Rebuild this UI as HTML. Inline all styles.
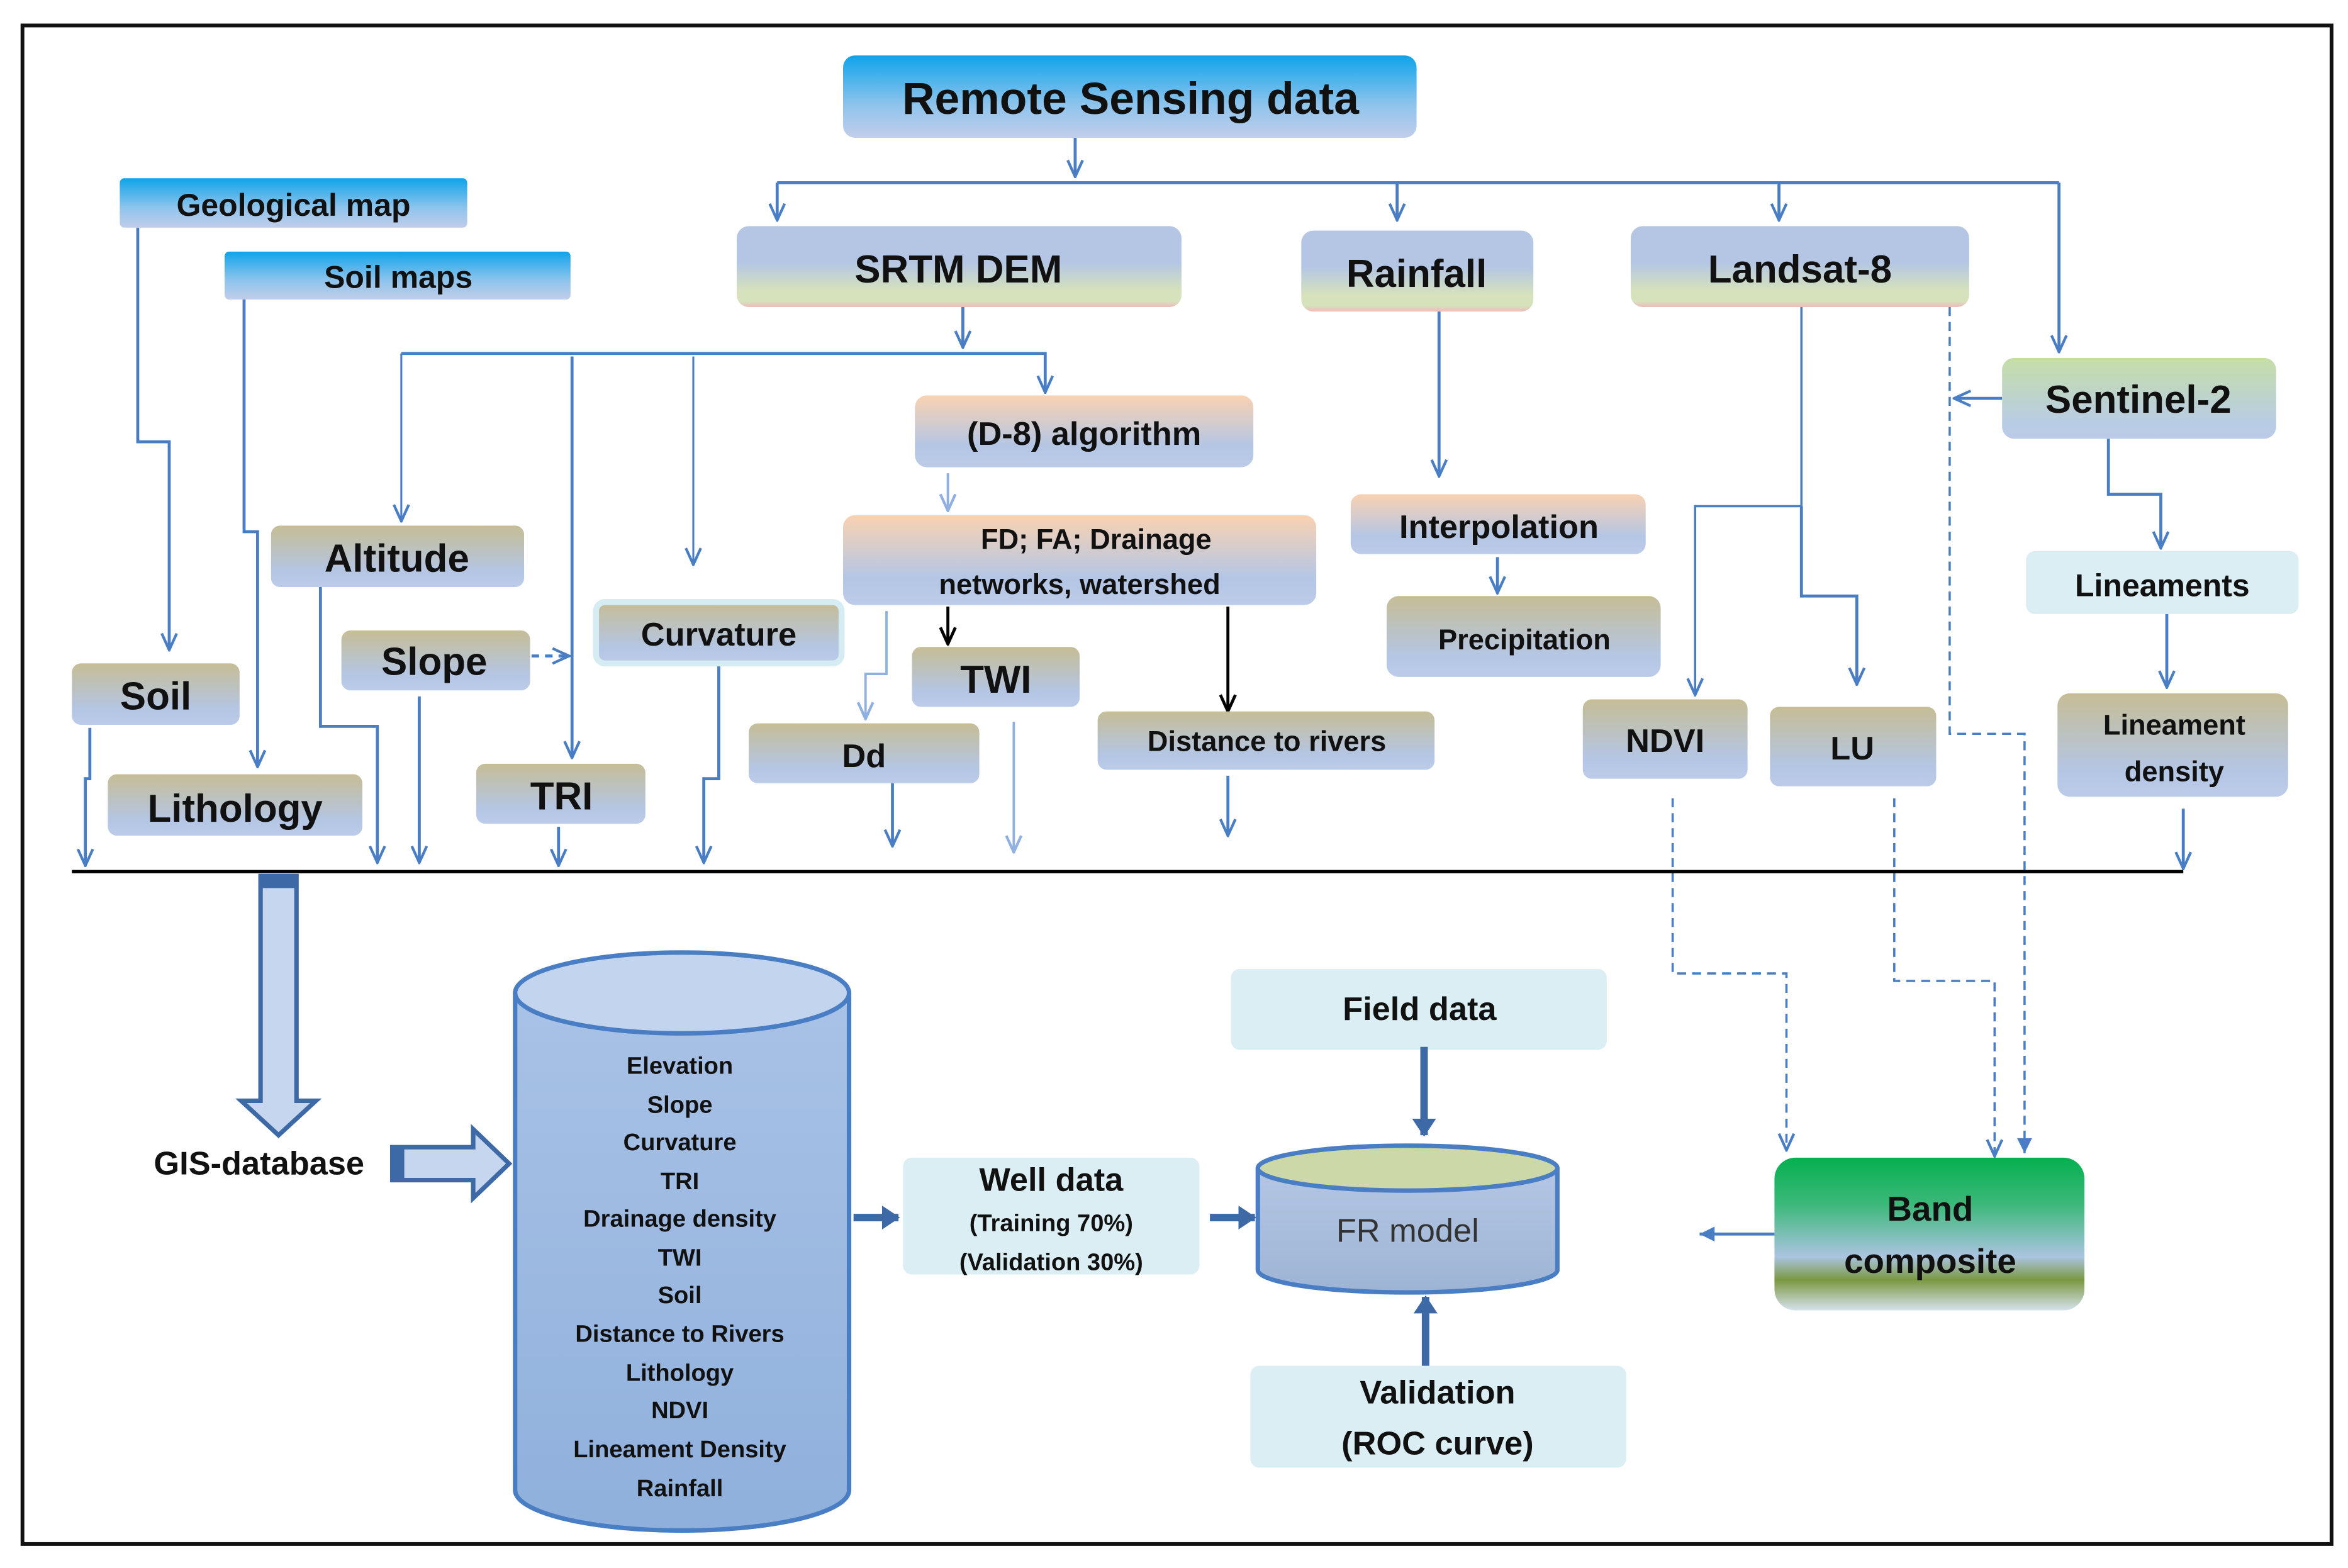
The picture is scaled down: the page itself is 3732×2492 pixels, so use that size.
<!DOCTYPE html>
<html><head><meta charset="utf-8"><style>
html,body{margin:0;padding:0;background:#fff}
svg{display:block}
text{font-family:"Liberation Sans",sans-serif;font-weight:bold;fill:#111;text-anchor:middle;dominant-baseline:central}
</style></head><body>
<svg width="3732" height="2492" viewBox="0 0 1568 1047" xmlns="http://www.w3.org/2000/svg">
<defs>
<linearGradient id="gCyan" x1="0" y1="0" x2="0" y2="1"><stop offset="0" stop-color="#0fa3ea"/><stop offset="0.6" stop-color="#8ec4ec"/><stop offset="1" stop-color="#c2cdea"/></linearGradient>
<linearGradient id="gSrtm" x1="0" y1="0" x2="0" y2="1"><stop offset="0" stop-color="#b4c6e4"/><stop offset="0.45" stop-color="#b4c6e4"/><stop offset="0.8" stop-color="#d6e2bc"/><stop offset="0.93" stop-color="#d6e2bc"/><stop offset="1" stop-color="#ecbcbc"/></linearGradient>
<linearGradient id="gOr" x1="0" y1="0" x2="0" y2="1"><stop offset="0" stop-color="#f9d2b2"/><stop offset="0.7" stop-color="#b4c6e4"/><stop offset="1" stop-color="#bccbe8"/></linearGradient>
<linearGradient id="gKh" x1="0" y1="0" x2="0" y2="1"><stop offset="0" stop-color="#c6bd96"/><stop offset="0.75" stop-color="#b4c6e4"/><stop offset="1" stop-color="#bccbe8"/></linearGradient>
<linearGradient id="gSen" x1="0" y1="0" x2="0" y2="1"><stop offset="0" stop-color="#c6dea8"/><stop offset="0.8" stop-color="#b8cce4"/><stop offset="1" stop-color="#bccbe8"/></linearGradient>
<linearGradient id="gBand" x1="0" y1="0" x2="0" y2="1"><stop offset="0" stop-color="#06b050"/><stop offset="0.3" stop-color="#3ab878"/><stop offset="0.65" stop-color="#abc4e0"/><stop offset="0.8" stop-color="#7a9840"/><stop offset="1" stop-color="#d6e2ee"/></linearGradient>
<linearGradient id="gCyl" x1="0" y1="0" x2="0" y2="1"><stop offset="0" stop-color="#a9c2e6"/><stop offset="1" stop-color="#8fb0dc"/></linearGradient>
<linearGradient id="gFR" x1="0" y1="0" x2="0" y2="1"><stop offset="0" stop-color="#b4c6e4"/><stop offset="1" stop-color="#9eb4d4"/></linearGradient>
<marker id="a" viewBox="0 0 14 12" refX="13" refY="6" markerWidth="14" markerHeight="12" markerUnits="userSpaceOnUse" orient="auto"><path d="M2,1 L13,6 L2,11" fill="none" stroke="#4a7ec4" stroke-width="1.8"/></marker>
<marker id="al" viewBox="0 0 14 12" refX="13" refY="6" markerWidth="14" markerHeight="12" markerUnits="userSpaceOnUse" orient="auto"><path d="M2,1 L13,6 L2,11" fill="none" stroke="#8fb0e0" stroke-width="1.8"/></marker>
<marker id="ak" viewBox="0 0 14 12" refX="13" refY="6" markerWidth="14" markerHeight="12" markerUnits="userSpaceOnUse" orient="auto"><path d="M2,1 L13,6 L2,11" fill="none" stroke="#000" stroke-width="2"/></marker>
<marker id="af" viewBox="0 0 12 12" refX="11" refY="6" markerWidth="12" markerHeight="12" markerUnits="userSpaceOnUse" orient="auto"><path d="M1,1 L11,6 L1,11 Z" fill="#4a7ec4"/></marker>
<marker id="at" viewBox="0 0 12 16" refX="11" refY="8" markerWidth="12" markerHeight="16" markerUnits="userSpaceOnUse" orient="auto"><path d="M0,0 L12,8 L0,16 Z" fill="#3d6aa6"/></marker>
</defs>
<rect x="15" y="17" width="1542" height="1014" fill="#fff" stroke="#111" stroke-width="2.5"/>

<g fill="none" stroke="#4a7ec4" stroke-width="2">
<path d="M718,92 V118" marker-end="url(#a)"/>
<path d="M519,122 H1375"/>
<path d="M519,122 V147" marker-end="url(#a)"/>
<path d="M933,122 V147" marker-end="url(#a)"/>
<path d="M1188,122 V147" marker-end="url(#a)"/>
<path d="M1375,122 V235" marker-end="url(#a)"/>
<path d="M92,152 V295 H113 V434" marker-end="url(#a)"/>
<path d="M163,200 V355 H172 V512" marker-end="url(#a)"/>
<path d="M643,205 V232" marker-end="url(#a)"/>
<path d="M268,236 H698 V262" marker-end="url(#a)"/>
<path d="M268,236 V348" stroke-width="1.3" marker-end="url(#a)"/>
<path d="M382,238 V506" marker-end="url(#a)"/>
<path d="M463,238 V377" stroke-width="1.3" marker-end="url(#a)"/>
<path d="M961,208 V318" marker-end="url(#a)"/>
<path d="M1000,372 V396" marker-end="url(#a)"/>
<path d="M1203,205 V338 H1132 V464" stroke-width="1.5" marker-end="url(#a)"/>
<path d="M1203,338 V398 H1240 V457" marker-end="url(#a)"/>
<path d="M1337,266 H1305" marker-end="url(#a)"/>
<path d="M1408,293 V330 H1443 V366" marker-end="url(#a)"/>
<path d="M1447,410 V459" marker-end="url(#a)"/>
<path d="M1458,540 V580" marker-end="url(#a)"/>
<path d="M60,486 V520 H57 V578" marker-end="url(#a)"/>
<path d="M214,392 V485 H252 V576" marker-end="url(#a)"/>
<path d="M280,465 V576" marker-end="url(#a)"/>
<path d="M373,552 V578" marker-end="url(#a)"/>
<path d="M480,443 V520 H470 V576" marker-end="url(#a)"/>
<path d="M596,523 V565" marker-end="url(#a)"/>
<path d="M820,518 V558" marker-end="url(#a)"/>
<path d="M1185,824 H1135" marker-end="url(#af)"/>
<path d="M355,438 H380" stroke-dasharray="5,4" marker-end="url(#a)"/>
</g>
<g fill="none" stroke="#8fb0e0" stroke-width="1.6">
<path d="M633,316 V341" marker-end="url(#al)"/>
<path d="M592,408 V450 H578 V480" marker-end="url(#al)"/>
<path d="M677,482 V569" marker-end="url(#al)"/>
</g>
<g fill="none" stroke="#000" stroke-width="2">
<path d="M633,405 V430" marker-end="url(#ak)"/>
<path d="M820,405 V475" marker-end="url(#ak)"/>
</g>
<g fill="none" stroke="#4a7ec4" stroke-width="1.5" stroke-dasharray="6,4">
<path d="M1302,205 V490 H1352 V770" marker-end="url(#af)"/>
<path d="M1117,533 V650 H1193 V768" marker-end="url(#a)"/>
<path d="M1265,533 V655 H1332 V772" marker-end="url(#a)"/>
</g>
<path d="M48,582 H1458" stroke="#000" stroke-width="2.2"/>

<g>
<rect x="563" y="37" width="383" height="55" rx="8" fill="url(#gCyan)"/><text x="755" y="66" font-size="30">Remote Sensing data</text>
<rect x="80" y="119" width="232" height="33" rx="3" fill="url(#gCyan)"/><text x="196" y="137" font-size="21">Geological map</text>
<rect x="150" y="168" width="231" height="32" rx="3" fill="url(#gCyan)"/><text x="266" y="185" font-size="21">Soil maps</text>
<rect x="492" y="151" width="297" height="54" rx="8" fill="url(#gSrtm)"/><text x="640" y="180" font-size="26">SRTM DEM</text>
<rect x="869" y="154" width="155" height="54" rx="8" fill="url(#gSrtm)"/><text x="946" y="183" font-size="26">Rainfall</text>
<rect x="1089" y="151" width="226" height="54" rx="8" fill="url(#gSrtm)"/><text x="1202" y="180" font-size="26">Landsat-8</text>
<rect x="1337" y="239" width="183" height="54" rx="8" fill="url(#gSen)"/><text x="1428" y="267" font-size="26">Sentinel-2</text>
<rect x="611" y="264" width="226" height="48" rx="8" fill="url(#gOr)"/><text x="724" y="290" font-size="22">(D-8) algorithm</text>
<rect x="563" y="344" width="316" height="60" rx="8" fill="url(#gOr)"/><text x="732" y="360" font-size="19">FD; FA; Drainage</text><text x="721" y="390" font-size="19">networks, watershed</text>
<rect x="902" y="330" width="197" height="40" rx="7" fill="url(#gOr)"/><text x="1001" y="352" font-size="22">Interpolation</text>
<rect x="926" y="398" width="183" height="54" rx="8" fill="url(#gKh)"/><text x="1018" y="427" font-size="19">Precipitation</text>
<rect x="181" y="351" width="169" height="41" rx="6" fill="url(#gKh)"/><text x="265" y="373" font-size="26">Altitude</text>
<rect x="228" y="421" width="126" height="40" rx="6" fill="url(#gKh)"/><text x="290" y="442" font-size="26">Slope</text>
<rect x="398" y="402" width="164" height="41" rx="6" fill="url(#gKh)" stroke="#d4ecf2" stroke-width="4"/><text x="480" y="424" font-size="22">Curvature</text>
<rect x="48" y="443" width="112" height="41" rx="6" fill="url(#gKh)"/><text x="104" y="465" font-size="26">Soil</text>
<rect x="72" y="517" width="170" height="41" rx="6" fill="url(#gKh)"/><text x="157" y="540" font-size="26">Lithology</text>
<rect x="318" y="510" width="113" height="40" rx="6" fill="url(#gKh)"/><text x="375" y="532" font-size="26">TRI</text>
<rect x="609" y="432" width="112" height="40" rx="6" fill="url(#gKh)"/><text x="665" y="454" font-size="26">TWI</text>
<rect x="500" y="483" width="154" height="40" rx="6" fill="url(#gKh)"/><text x="577" y="505" font-size="22">Dd</text>
<rect x="733" y="475" width="225" height="39" rx="6" fill="url(#gKh)"/><text x="846" y="495" font-size="19">Distance to rivers</text>
<rect x="1057" y="467" width="110" height="53" rx="6" fill="url(#gKh)"/><text x="1112" y="495" font-size="22">NDVI</text>
<rect x="1182" y="472" width="111" height="53" rx="6" fill="url(#gKh)"/><text x="1237" y="500" font-size="22">LU</text>
<rect x="1353" y="368" width="182" height="42" rx="6" fill="#daeef3"/><text x="1444" y="391" font-size="21">Lineaments</text>
<rect x="1374" y="463" width="154" height="69" rx="8" fill="url(#gKh)"/><text x="1452" y="484" font-size="19">Lineament</text><text x="1452" y="515" font-size="19">density</text>
<rect x="822" y="647" width="251" height="54" rx="6" fill="#daeef3"/><text x="948" y="674" font-size="22">Field data</text>
<rect x="835" y="912" width="251" height="68" rx="6" fill="#daeef3"/><text x="960" y="930" font-size="22">Validation</text><text x="960" y="964" font-size="22">(ROC curve)</text>
<rect x="603" y="773" width="198" height="78" rx="6" fill="#daeef3"/><text x="702" y="788" font-size="22">Well data</text><text x="702" y="817" font-size="16">(Training 70%)</text><text x="702" y="843" font-size="16">(Validation 30%)</text>
<rect x="1185" y="773" width="207" height="102" rx="14" fill="url(#gBand)"/><text x="1289" y="807" font-size="23">Band</text><text x="1289" y="842" font-size="23">composite</text>
</g>

<path d="M344,663 V995 A111.5,27 0 0 0 567,995 V663" fill="url(#gCyl)" stroke="#4a7ec4" stroke-width="3"/>
<ellipse cx="455.5" cy="663" rx="111.5" ry="27" fill="#c2d4ee" stroke="#4a7ec4" stroke-width="3"/>
<g>
<text x="454" y="712" font-size="16">Elevation</text>
<text x="454" y="738" font-size="16">Slope</text>
<text x="454" y="763" font-size="16">Curvature</text>
<text x="454" y="789" font-size="16">TRI</text>
<text x="454" y="814" font-size="16">Drainage density</text>
<text x="454" y="840" font-size="16">TWI</text>
<text x="454" y="865" font-size="16">Soil</text>
<text x="454" y="891" font-size="16">Distance to Rivers</text>
<text x="454" y="917" font-size="16">Lithology</text>
<text x="454" y="942" font-size="16">NDVI</text>
<text x="454" y="968" font-size="16">Lineament Density</text>
<text x="454" y="994" font-size="16">Rainfall</text>
</g>
<path d="M840,780 V848 A100,15 0 0 0 1040,848 V780" fill="url(#gFR)" stroke="#4a7ec4" stroke-width="3"/>
<ellipse cx="940" cy="780" rx="100" ry="15" fill="#ccd8a8" stroke="#4a7ec4" stroke-width="3"/>
<text x="940" y="822" font-size="22" style="font-weight:normal;fill:#333">FR model</text>

<g stroke="#3d6aa6" stroke-width="5" fill="none">
<path d="M951,699 V758" marker-end="url(#at)"/>
<path d="M952,912 V866" marker-end="url(#at)"/>
<path d="M570,813 H600" marker-end="url(#at)"/>
<path d="M808,813 H838" marker-end="url(#at)"/>
</g>
<path d="M174,585 H198 V735 H211 L186,758 L161,735 H174 Z" fill="#c6d6ee" stroke="#3d6aa6" stroke-width="3"/>
<path d="M262,766 H316 V754 L340,777 L316,800 V788 H262 Z" fill="#c6d6ee" stroke="#3d6aa6" stroke-width="3"/>
<rect x="174" y="585" width="24" height="8" fill="#3d6aa6"/>
<rect x="262" y="766" width="8" height="22" fill="#3d6aa6"/>
<text x="173" y="777" font-size="22">GIS-database</text>
</svg>
</body></html>
